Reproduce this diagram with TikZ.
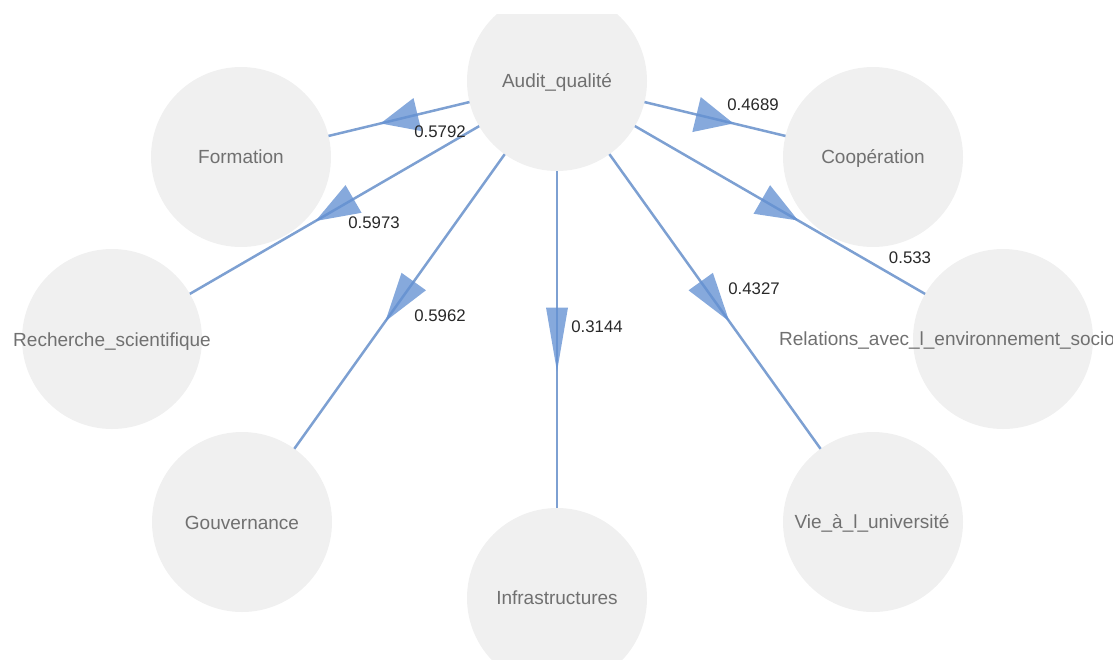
\documentclass[tikz,border=0pt]{standalone}
\usepackage{fontspec}
\setmainfont{Liberation Sans}
\usetikzlibrary{decorations.markings}

\definecolor{bubble}{RGB}{240,240,240}
\definecolor{linkblue}{RGB}{125,160,210}
\definecolor{headblue}{RGB}{100,145,210}
\definecolor{nodetext}{RGB}{112,112,112}
\definecolor{weighttext}{RGB}{40,40,40}

\tikzset{
  bubblenode/.style={circle, fill=bubble, minimum size=180pt, inner sep=0pt, outer sep=0pt},
  nodelabel/.style={anchor=base, inner sep=0pt, text=nodetext, font=\fontsize{19}{21}\selectfont},
  weight/.style={anchor=base, inner sep=0pt, text=weighttext, font=\fontsize{16.8}{18}\selectfont},
  % edge with a wide triangular head at its middle: #1 = head length, #2 = head width
  link/.style 2 args={draw=linkblue, line width=2.5pt,
    postaction={decorate},
    decoration={markings, mark=at position 0.5 with {
      \fill[headblue, fill opacity=0.78] (0.5*#1,0) -- (-0.5*#1,0.5*#2) -- (-0.5*#1,-0.5*#2) -- cycle;}}}
}

\begin{document}
\begin{tikzpicture}[x=1pt,y=-1pt]
\useasboundingbox (0,0) rectangle (1113,659);
\begin{scope}
\clip (0,14) rectangle (1113,659);

% bubbles
\node[bubblenode] (audit) at (557,81) {};
\node[bubblenode] (formation) at (241,157) {};
\node[bubblenode] (coop) at (873,157) {};
\node[bubblenode] (recherche) at (112,339) {};
\node[bubblenode] (relations) at (1003,339) {};
\node[bubblenode] (gouv) at (242,522) {};
\node[bubblenode] (infra) at (557,598) {};
\node[bubblenode] (vie) at (873,522) {};

% bubble names
\node[nodelabel] (tAudit) at (557,87) {Audit\_qualité};
\node[nodelabel] (tFormation) at (241,163.5) {Formation};
\node[nodelabel] (tCoop) at (873,163.5) {Coopération};
\node[nodelabel] (tRecherche) at (112,346) {Recherche\_scientifique};
\node[nodelabel, anchor=base west] (tRelations) at (779,345) {Relations\_avec\_l\_environnement\_socio};
\node[nodelabel] (tGouv) at (242,529) {Gouvernance};
\node[nodelabel] (tInfra) at (557,604.5) {Infrastructures};
\node[nodelabel] (tVie) at (872,528.5) {Vie\_à\_l\_université};

% weighted links
\draw[link={38}{34}] (audit) -- (formation);
\draw[link={38}{36}] (audit) -- (coop);
\draw[link={44}{32}] (audit) -- (recherche);
\draw[link={42}{33}] (audit) -- (relations);
\draw[link={49}{30}] (audit) -- (gouv);
\draw[link={49}{30}] (audit) -- (vie);
\draw[link={64}{22}] (audit) -- (infra);

% link weights
\node[weight] (w1) at (440,137) {0.5792};
\node[weight] (w2) at (753,110) {0.4689};
\node[weight] (w3) at (374,228) {0.5973};
\node[weight] (w4) at (910,263) {0.533};
\node[weight] (w5) at (440,321) {0.5962};
\node[weight] (w6) at (597,332) {0.3144};
\node[weight] (w7) at (754,294) {0.4327};
\end{scope}
\end{tikzpicture}
\end{document}
